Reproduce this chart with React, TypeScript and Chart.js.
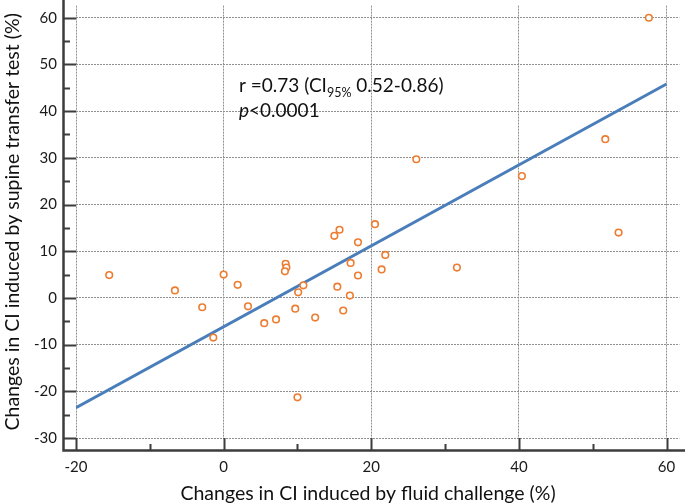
import React, { useEffect, useRef } from "react";
import { Chart, registerables } from "chart.js";

Chart.register(...registerables);

// Scatter data: changes in CI (%) – fluid challenge (x) vs supine transfer test (y)
const fluidChallenge = [
  -15.5, -6.6, -2.9, -1.4, 0.0, 1.9, 3.3, 5.5, 7.1, 8.4, 8.5, 8.3, 9.7, 10.1, 10.8, 10.0,
  12.4, 15.0, 15.7, 15.4, 17.1, 16.2, 17.2, 18.2, 18.2, 20.5, 21.9, 21.4, 31.6, 53.5,
  57.6, 51.7, 40.4, 26.1,
];
const supineTransfer = [
  4.9, 1.6, -2.0, -8.5, 5.0, 2.8, -1.8, -5.4, -4.6, 7.3, 6.5, 5.7, -2.3, 1.2, 2.7, -21.3,
  -4.2, 13.3, 14.6, 2.4, 0.5, -2.7, 7.5, 11.9, 4.8, 15.8, 9.2, 6.1, 6.5, 14.0,
  60.0, 34.0, 26.1, 29.7,
];

// Regression line end points
const regressionX = [-20, 60];
const regressionY = [-23.5, 45.8];

// Axis ticks
const xMajorTicks = [-20, 0, 20, 40, 60];
const xMinorTicks = [-10, 10, 30, 50];
const yMajorTicks = [-30, -20, -10, 0, 10, 20, 30, 40, 50, 60];
const yMinorTicks = [-25, -15, -5, 5, 15, 25, 35, 45, 55];

const X_MIN = -20;
const X_MAX = 61.74;
const Y_MIN = -30;
const Y_MAX = 62.6;

const xTitle = "Changes in CI induced by fluid challenge (%)";
const yTitle = "Changes in CI induced by supine transfer test (%)";
const statLine1a = "r =0.73 (CI";
const statLine1sub = "95%";
const statLine1b = " 0.52-0.86)";
const statLine2p = "p";
const statLine2rest = "<0.0001";

const FONT = "Lato, 'Open Sans', sans-serif";

const customPlugin = {
  id: "customAxes",
  afterDraw(chart: any) {
    const ctx = chart.ctx as CanvasRenderingContext2D;
    const xs = chart.scales.x;
    const ys = chart.scales.y;
    const area = chart.chartArea;
    const axX = 63.5;
    const axY = 450.5;
    ctx.save();
    ctx.strokeStyle = "#3d3d3d";
    ctx.lineWidth = 2.5;
    ctx.beginPath();
    ctx.moveTo(axX, 0);
    ctx.lineTo(axX, axY + 1.2);
    ctx.moveTo(axX - 1.2, axY);
    ctx.lineTo(chart.width, axY);
    ctx.stroke();

    ctx.lineWidth = 2;
    ctx.beginPath();
    for (const v of yMajorTicks) {
      const p = Math.round(ys.getPixelForValue(v)) + 0.5;
      ctx.moveTo(axX, p);
      ctx.lineTo(area.left, p);
    }
    for (const v of yMinorTicks) {
      const p = Math.round(ys.getPixelForValue(v)) + 0.5;
      ctx.moveTo(axX, p);
      ctx.lineTo(axX + 6.5, p);
    }
    for (const v of xMajorTicks) {
      const p = Math.round(xs.getPixelForValue(v)) + 0.5;
      ctx.moveTo(p, axY);
      ctx.lineTo(p, area.bottom);
    }
    for (const v of xMinorTicks) {
      const p = Math.round(xs.getPixelForValue(v)) + 0.5;
      ctx.moveTo(p, axY);
      ctx.lineTo(p, axY - 6.5);
    }
    ctx.stroke();

    // axis title (x)
    ctx.fillStyle = "#111";
    ctx.font = `19.5px ${FONT}`;
    ctx.textAlign = "center";
    ctx.textBaseline = "middle";
    ctx.fillText(xTitle, 368, 494);

    // statistics annotation
    ctx.textAlign = "left";
    ctx.textBaseline = "alphabetic";
    const x0 = 239;
    const big = `19px ${FONT}`;
    const small = `12.5px ${FONT}`;
    ctx.font = big;
    ctx.fillText(statLine1a, x0, 92);
    let x = x0 + ctx.measureText(statLine1a).width;
    ctx.font = small;
    ctx.fillText(statLine1sub, x, 96.5);
    x += ctx.measureText(statLine1sub).width;
    ctx.font = big;
    ctx.fillText(statLine1b, x, 92);

    ctx.font = `italic 19px ${FONT}`;
    ctx.fillText(statLine2p, x0, 117);
    const px = x0 + ctx.measureText(statLine2p).width;
    ctx.font = big;
    ctx.fillText(statLine2rest, px, 117);
    ctx.restore();
  },
};

const zeroPad = (s: any) => {
  s.paddingTop = 0;
  s.paddingBottom = 0;
  s.paddingLeft = 0;
  s.paddingRight = 0;
};

export default function App() {
  const ref = useRef<HTMLCanvasElement | null>(null);
  useEffect(() => {
    if (!ref.current) return;
    const points = fluidChallenge.map((x, i) => ({ x, y: supineTransfer[i] }));
    const line = regressionX.map((x, i) => ({ x, y: regressionY[i] }));
    const chart = new Chart(ref.current, {
      type: "scatter",
      data: {
        datasets: [
          {
            label: "Patients",
            data: points,
            pointStyle: "circle",
            pointRadius: 3.3,
            pointBorderWidth: 1.6,
            borderColor: "#ED7D31",
            backgroundColor: "#ffffff",
          } as any,
          {
            type: "line",
            label: "Regression",
            data: line,
            borderColor: "#4A7EBB",
            borderWidth: 3,
            pointRadius: 0,
            fill: false,
          } as any,
        ],
      },
      options: {
        responsive: false,
        animation: false,
        layout: { padding: 0 },
        plugins: {
          legend: { display: false },
          tooltip: { enabled: false },
        },
        scales: {
          x: {
            type: "linear",
            position: "bottom",
            min: X_MIN,
            max: X_MAX,
            afterBuildTicks: (s: any) => {
              s.ticks = xMajorTicks.map((v) => ({ value: v }));
              s.min = X_MIN;
              s.max = X_MAX;
            },
            afterFit: (s: any) => {
              s.height = 66;
              zeroPad(s);
            },
            ticks: {
              padding: 20,
              color: "#1a1a1a",
              font: { family: FONT, size: 15 },
              maxRotation: 0,
            },
            grid: {
              color: "#8f8f8f",
              lineWidth: 1,
              drawTicks: false,
            },
            border: { display: false, dash: [2, 1] },
          },
          y: {
            type: "linear",
            position: "left",
            min: Y_MIN,
            max: Y_MAX,
            afterBuildTicks: (s: any) => {
              s.ticks = yMajorTicks.map((v) => ({ value: v }));
              s.min = Y_MIN;
              s.max = Y_MAX;
            },
            afterFit: (s: any) => {
              s.width = 76;
              zeroPad(s);
            },
            ticks: {
              padding: 19,
              color: "#1a1a1a",
              font: { family: FONT, size: 15 },
            },
            grid: {
              color: "#8f8f8f",
              lineWidth: 1,
              drawTicks: false,
            },
            border: { display: false, dash: [2, 1] },
            title: {
              display: true,
              text: yTitle,
              color: "#111",
              font: { family: FONT, size: 19.5 },
              padding: { top: 1, bottom: 0 },
            },
          },
        },
      } as any,
      plugins: [customPlugin],
    });
    return () => chart.destroy();
  }, []);
  return (
    <div style={{ position: "fixed", left: 0, top: 0, width: 685, height: 504, background: "#fff" }}>
      <canvas ref={ref} width={685} height={504} style={{ width: 685, height: 504, display: "block" }} />
    </div>
  );
}
